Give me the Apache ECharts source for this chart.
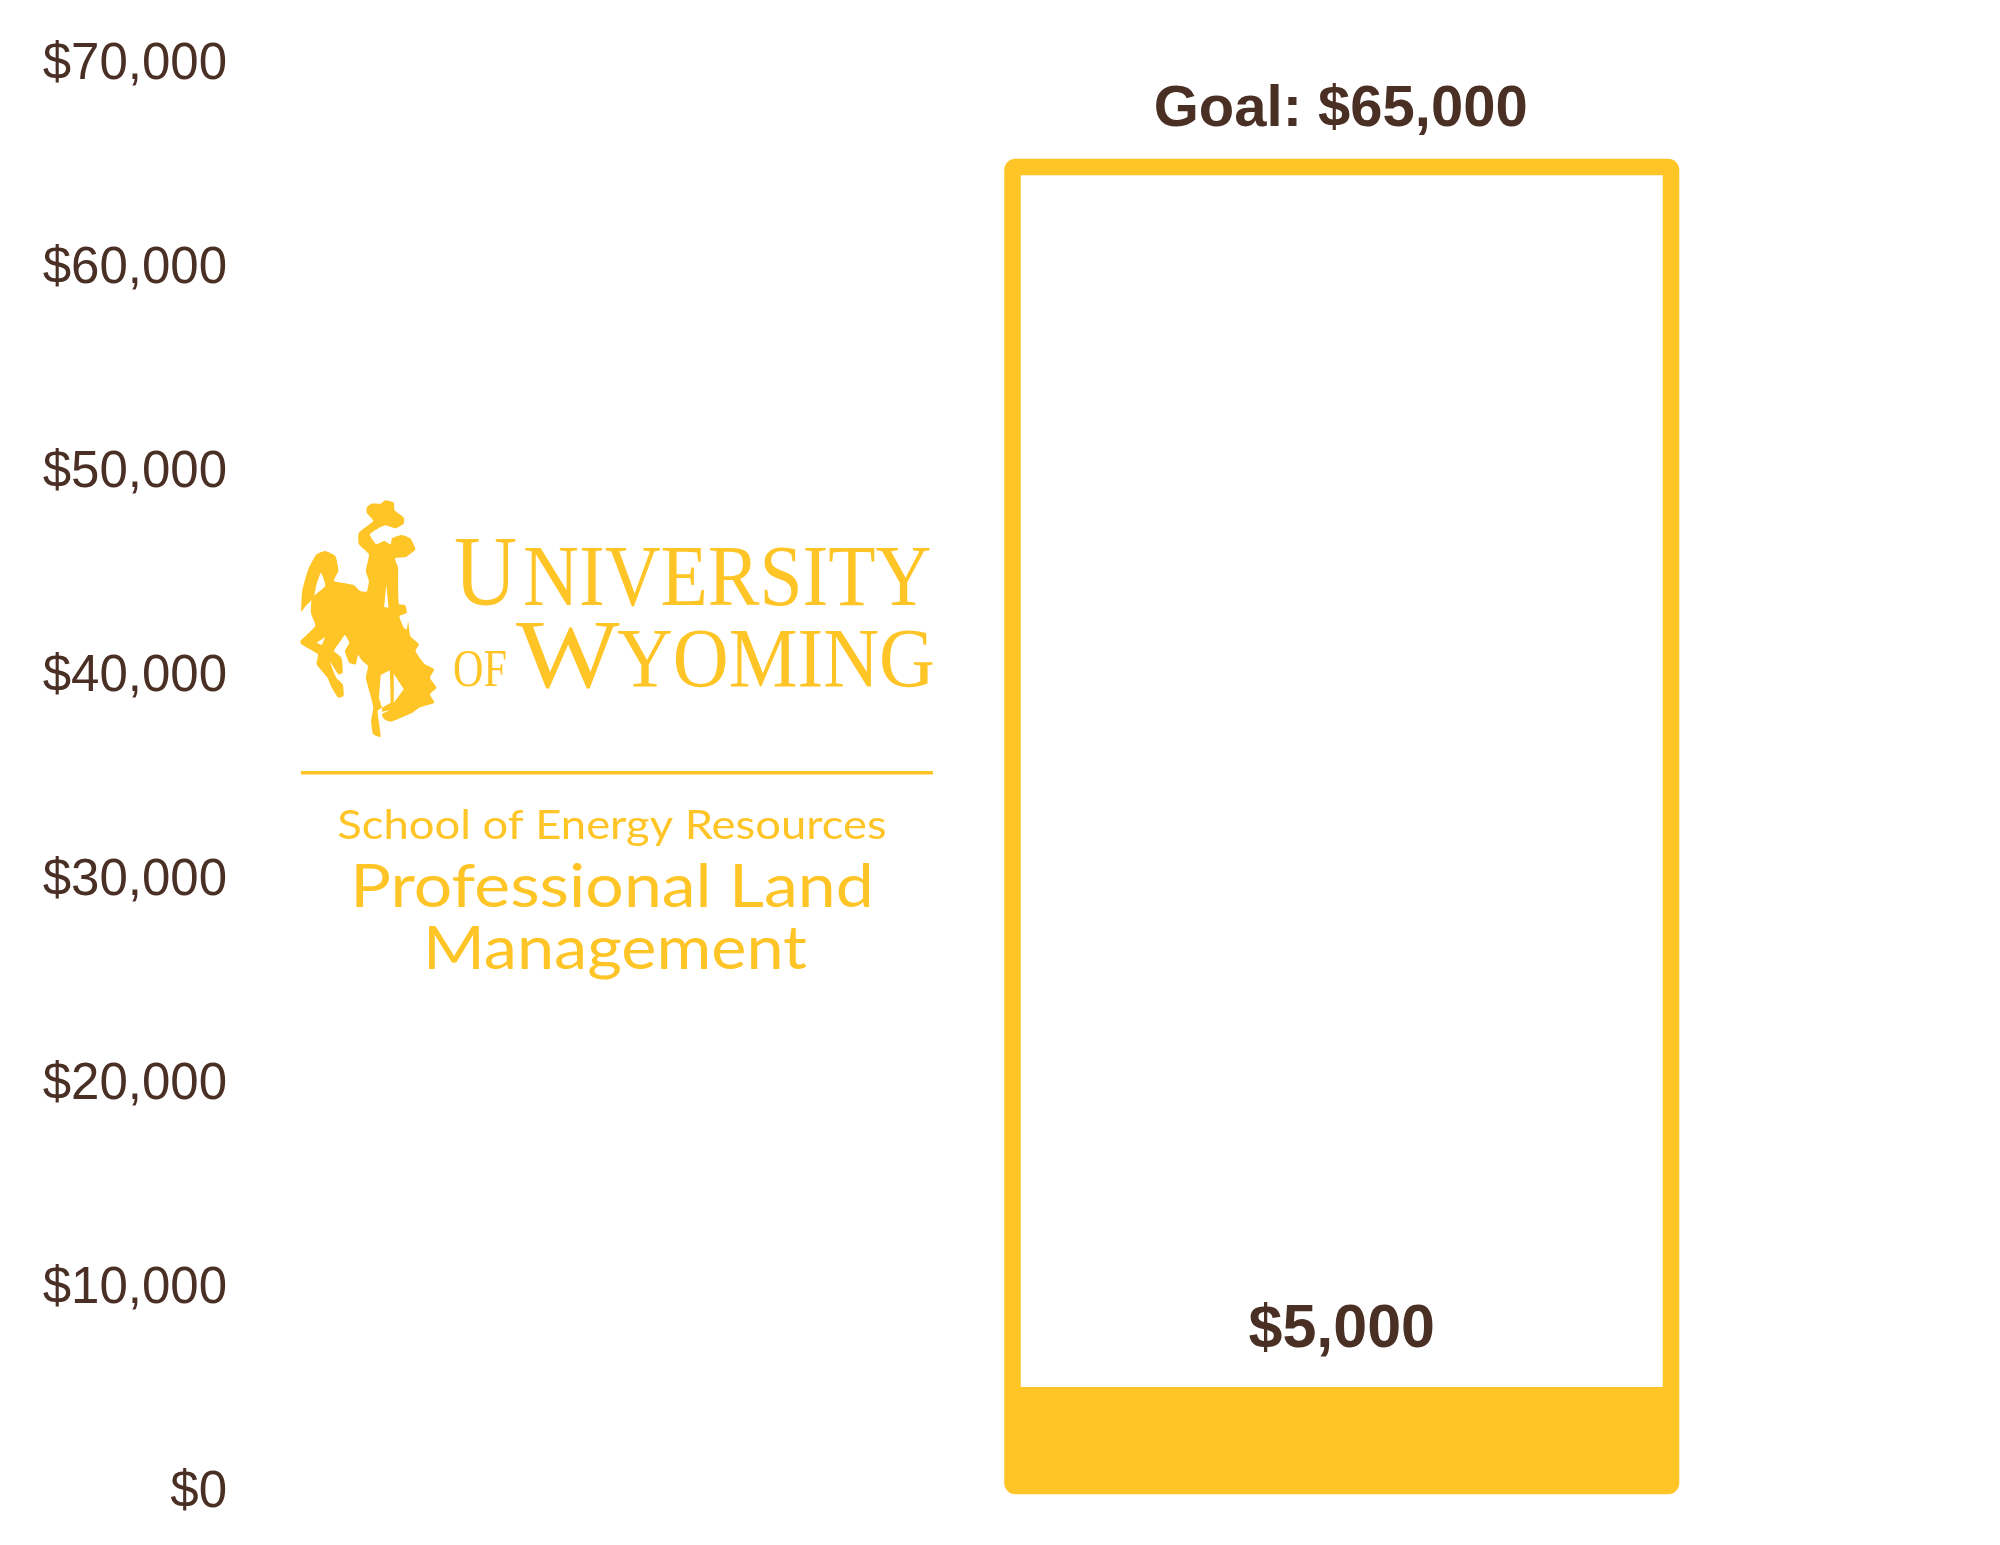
<!DOCTYPE html>
<html>
<head>
<meta charset="utf-8">
<style>html,body{margin:0;padding:0;background:#fff}#c{width:2000px;height:1545px}</style>
<script src="https://cdn.jsdelivr.net/npm/echarts@6/dist/echarts.min.js"></script>
</head>
<body>
<div id="c"></div>
<script>
const categories = ['Logo', 'Fundraising'];
const goalValues = [null, 65000];
const raisedValues = [null, 5000];
const tickLabels = ['$0', '$10,000', '$20,000', '$30,000', '$40,000', '$50,000', '$60,000', '$70,000'];
const goalLabel = 'Goal: $65,000';
const raisedLabel = '$5,000';

const GOLD = '#FFC425';
const BROWN = '#492F24';

const horse = [[200,80],[210,68],[232,68],[243,58],[262,65],[264,88],[285,110],[285,128],[265,142],[243,133],[225,143],[207,160],[222,190],[240,180],[255,190],[258,172],[280,162],[300,172],[312,205],[302,217],[290,228],[265,232],[272,260],[272,300],[274,370],[288,372],[292,395],[275,405],[285,440],[292,445],[295,420],[300,465],[320,490],[312,510],[332,548],[355,565],[345,590],[360,620],[345,640],[355,665],[320,680],[305,695],[255,722],[240,715],[235,700],[252,688],[235,692],[235,680],[225,690],[232,768],[215,760],[210,720],[215,680],[208,640],[198,590],[203,555],[190,540],[180,522],[175,550],[160,545],[150,510],[160,485],[150,462],[140,480],[125,510],[142,530],[145,575],[135,580],[120,550],[115,540],[130,590],[145,610],[147,645],[135,650],[120,620],[110,590],[85,550],[88,520],[50,490],[48,480],[82,435],[72,395],[75,350],[105,315],[95,275],[85,310],[78,350],[60,375],[50,392],[52,330],[66,265],[85,220],[105,210],[128,225],[135,270],[125,300],[170,312],[185,330],[200,332],[205,300],[198,270],[205,220],[182,190],[182,155],[215,120],[200,95]];
const horseGaps = [
  [[232,582],[253,568],[255,665],[235,680],[228,650]],
  [[262,578],[285,625],[262,665]],
  [[245,310],[250,380],[240,378]],
  [[85,485],[105,468],[97,492]]
];
const hx = 0.436, hy = 1 / 3, h0x = 300 - 47 * hx, h0y = 500 - 57 * hy;

function serif(text, x, y, size, scaleX) {
  return {type: 'text', x, y, scaleX, z: 10,
    style: {text, font: size + 'px "Liberation Serif"', fill: GOLD, stroke: '#fff', lineWidth: 1.1, textAlign: 'left', textVerticalAlign: 'middle'}};
}
function sans(text, x, y, size, scaleX, thin) {
  return {type: 'text', x, y, scaleX, z: 10,
    style: {text, font: size + 'px "Lato"', fill: GOLD, stroke: '#fff', lineWidth: thin, textAlign: 'center', textVerticalAlign: 'middle'}};
}

const logo = [
  {type: 'polygon', x: h0x, y: h0y, scaleX: hx, scaleY: hy, z: 10, shape: {points: horse, smooth: 0.15}, style: {fill: GOLD}},
  ...horseGaps.map(p => ({type: 'polygon', x: h0x, y: h0y, scaleX: hx, scaleY: hy, z: 11, shape: {points: p}, style: {fill: '#fff'}})),
  serif('U', 454, 578, 100, 0.875),
  serif('NIVERSITY', 523, 582, 86, 0.9),
  serif('OF', 453, 672, 52, 0.81),
  serif('W', 516, 661, 98, 1.12),
  serif('YOMING', 617, 665, 85, 0.91),
  {type: 'rect', z: 10, shape: {x: 301, y: 771, width: 632, height: 3.5}, style: {fill: GOLD}},
  sans('School of Energy Resources', 612, 826, 40, 1.134, 0.5),
  sans('Professional Land', 612, 888, 60, 1.133, 0.9),
  sans('Management', 615, 950, 60, 1.11, 0.9)
];

const chart = echarts.init(document.getElementById('c'), null, {renderer: 'canvas'});
chart.setOption({
  animation: false,
  backgroundColor: '#fff',
  grid: {left: 255, right: 296, top: 61, bottom: 56, containLabel: false},
  xAxis: {type: 'category', data: categories, axisLine: {show: false}, axisTick: {show: false}, axisLabel: {show: false}, splitLine: {show: false}},
  yAxis: {
    type: 'value', min: 0, max: 70000, interval: 10000,
    axisLine: {show: false}, axisTick: {show: false}, splitLine: {show: false},
    axisLabel: {
      margin: 28, color: BROWN, fontFamily: '"Liberation Sans"', fontSize: 51, verticalAlign: 'top', lineHeight: 8,
      formatter: (v) => tickLabels[v / 10000]
    }
  },
  series: [
    {
      name: 'Raised', type: 'bar', data: raisedValues, barWidth: 660, z: 2,
      itemStyle: {color: GOLD},
      label: {show: true, position: 'top', distance: 26, color: BROWN, fontFamily: '"Liberation Sans"', fontWeight: 'bold', fontSize: 61, formatter: () => raisedLabel}
    },
    {
      name: 'Goal', type: 'custom', z: 3,
      data: goalValues.map((v, i) => [categories[i], v]).filter(d => d[1] !== null),
      encode: {x: 0, y: 1},
      renderItem: (params, api) => {
        const top = api.coord([api.value(0), api.value(1)]);
        const base = api.coord([api.value(0), 0]);
        const lw = 16.5, w = 675 - lw;
        return {type: 'group', children: [
          {type: 'rect', shape: {x: top[0] - w / 2, y: top[1] + 4, width: w, height: base[1] - top[1] - 7, r: 3},
           style: {fill: 'none', stroke: GOLD, lineWidth: lw}},
          {type: 'text', x: top[0] - 1, y: top[1] - 53,
           style: {text: goalLabel, font: 'bold 58px "Liberation Sans"', fill: BROWN, textAlign: 'center', textVerticalAlign: 'middle'}}
        ]};
      }
    }
  ],
  graphic: {elements: logo}
});
</script>
</body>
</html>
